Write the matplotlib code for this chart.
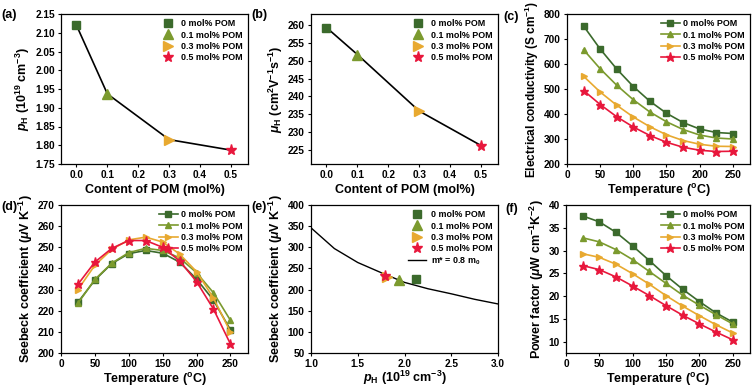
import numpy as np
import matplotlib
matplotlib.use("Agg")
import matplotlib.pyplot as plt

plt.rcParams["font.family"] = ["Liberation Sans", "DejaVu Sans"]
plt.rcParams["font.weight"] = "bold"
plt.rcParams["mathtext.fontset"] = "custom"
plt.rcParams["mathtext.rm"] = "Liberation Sans:bold"
plt.rcParams["mathtext.it"] = "Liberation Sans:italic:bold"
plt.rcParams["mathtext.bf"] = "Liberation Sans:bold"

# data
pom = [0, 0.1, 0.3, 0.5]
labels = ["0 mol% POM", "0.1 mol% POM", "0.3 mol% POM", "0.5 mol% POM"]
p_h = [2.12, 1.937, 1.815, 1.787]
mu_h = [259.4, 251.8, 235.9, 226.2]

temp = [25, 50, 75, 100, 125, 150, 175, 200, 225, 250]
sigma = [
	[752, 660, 580, 510, 451, 403, 366, 340, 326, 322],
	[657, 581, 515, 457, 408, 369, 338, 316, 304, 300],
	[551, 488, 435, 388, 349, 317, 294, 279, 271, 270],
	[494, 438, 389, 348, 314, 287, 267, 255, 250, 251],
]
seebeck = [
	[224, 234.5, 242.3, 247, 248.5, 247.2, 243, 235, 225, 211],
	[223.5, 234.8, 242.5, 247.5, 249.5, 248.5, 245, 238, 228.5, 215.5],
	[230, 241.5, 249, 253.5, 254.8, 252.5, 246.8, 238.5, 226, 210],
	[232.5, 243, 249.5, 253.2, 253.2, 250, 243.6, 233.8, 220.8, 204.3],
]
pf = [
	[37.6, 36.3, 34.0, 31.0, 27.8, 24.5, 21.5, 18.8, 16.3, 14.3],
	[32.8, 31.9, 30.2, 28.0, 25.4, 22.8, 20.2, 18.0, 15.9, 13.9],
	[29.3, 28.5, 27.0, 24.9, 22.6, 20.1, 17.8, 15.7, 13.7, 11.9],
	[26.7, 25.8, 24.2, 22.2, 20.1, 17.9, 15.8, 13.9, 12.1, 10.4],
]
seebeck_rt = [224, 223.5, 230, 232.5]
pis_p = [1.0, 1.25, 1.5, 1.75, 2.0, 2.25, 2.5, 2.75, 3.0]
pis_s = [346, 297, 264, 240, 217, 202, 190, 177, 166]

colors = ["#3b6a2c", "#7b9a2e", "#e8a930", "#e8173c"]
markers = ["s", "^", ">", "*"]
msize = [4.5, 5, 5, 6.5]

W, H = 754, 388
fig = plt.figure(figsize=(W / 100, H / 100), dpi=100)

def ax_px(l, t, r, b):
	return fig.add_axes([l / W, 1 - b / H, (r - l) / W, (b - t) / H])

tick_fs = 7.3
lab_fs = 9.0
leg_fs = 6.4

def style(ax):
	ax.tick_params(direction="out", length=2.5, width=0.8, labelsize=tick_fs, pad=2)
	for s in ax.spines.values():
		s.set_linewidth(0.9)
	for t in ax.get_xticklabels() + ax.get_yticklabels():
		t.set_fontweight("bold")

boxes = {
	"a": (61, 14, 248, 164), "b": (311, 14, 498, 164), "c": (567, 14, 750, 164),
	"d": (61, 205, 248, 353), "e": (311, 205, 498, 353), "f": (566, 205, 750, 353),
}
axes = {k: ax_px(*v) for k, v in boxes.items()}
lab_pos = {"a": (1, 15), "b": (251, 15), "c": (503, 17), "d": (1, 207), "e": (251, 207), "f": (505, 209)}
for k, (x, y) in lab_pos.items():
	fig.text(x / W, 1 - y / H, f"({k})", fontsize=9, fontweight="bold", va="center", ha="left")

leg_kw = dict(frameon=False, labelspacing=0.25, borderaxespad=0.2, prop={"weight": "bold", "size": leg_fs})

# (a)
ax = axes["a"]
ax.plot(pom, p_h, color="black", lw=1.2, zorder=1)
for i in range(4):
	ax.plot(pom[i], p_h[i], ls="none", marker=markers[i], color=colors[i], ms=msize[i] + 1.5, label=labels[i], zorder=2)
ax.set_xlim(-0.05, 0.555)
ax.set_ylim(1.75, 2.15)
ax.set_xticks(np.arange(0, 0.51, 0.1))
ax.set_yticks(np.arange(1.75, 2.151, 0.05))
ax.xaxis.set_major_formatter(matplotlib.ticker.FormatStrFormatter("%.1f"))
ax.yaxis.set_major_formatter(matplotlib.ticker.FormatStrFormatter("%.2f"))
ax.set_xlabel("Content of POM (mol%)", fontsize=lab_fs, fontweight="bold", labelpad=3)
ax.set_ylabel(r"$\mathit{p}_\mathrm{H}$ (10$^{19}$ cm$^{-3}$)", fontsize=lab_fs, fontweight="bold", labelpad=2)
ax.legend(loc="upper right", handlelength=1.2, handletextpad=0.8, **leg_kw)
style(ax)

# (b)
ax = axes["b"]
ax.plot(pom, mu_h, color="black", lw=1.2, zorder=1)
for i in range(4):
	ax.plot(pom[i], mu_h[i], ls="none", marker=markers[i], color=colors[i], ms=msize[i] + 1.5, label=labels[i], zorder=2)
ax.set_xlim(-0.05, 0.555)
ax.set_ylim(221, 263.2)
ax.set_xticks(np.arange(0, 0.51, 0.1))
ax.set_yticks(np.arange(225, 261, 5))
ax.xaxis.set_major_formatter(matplotlib.ticker.FormatStrFormatter("%.1f"))
ax.set_xlabel("Content of POM (mol%)", fontsize=lab_fs, fontweight="bold", labelpad=3)
ax.set_ylabel(r"$\mathit{\mu}_\mathrm{H}$ (cm$^{2}$V$^{-1}$s$^{-1}$)", fontsize=lab_fs, fontweight="bold", labelpad=2)
ax.legend(loc="upper right", handlelength=1.2, handletextpad=0.8, **leg_kw)
style(ax)

def temp_panel(ax, data):
	for i in range(4):
		ax.plot(temp, data[i], color=colors[i], marker=markers[i], ms=msize[i], lw=1.2, label=labels[i])
	ax.set_xlim(0, 276)
	ax.set_xticks(range(0, 251, 50))
	ax.set_xlabel(r"Temperature ($^\mathrm{o}$C)", fontsize=lab_fs, fontweight="bold", labelpad=1)
	ax.legend(loc="upper right", handlelength=2.2, handletextpad=0.3, **leg_kw)
	style(ax)

# (c)
ax = axes["c"]
temp_panel(ax, sigma)
ax.set_ylim(200, 800)
ax.set_yticks(range(200, 801, 100))
ax.set_ylabel(r"Electrical conductivity (S cm$^{-1}$)", fontsize=8.6, fontweight="bold", labelpad=2)

# (d)
ax = axes["d"]
temp_panel(ax, seebeck)
ax.set_ylim(200, 270)
ax.set_yticks(range(200, 271, 10))
ax.set_ylabel(r"Seebeck coefficient ($\mu$V K$^{-1}$)", fontsize=lab_fs, fontweight="bold", labelpad=2)

# (e)
ax = axes["e"]
for i in range(4):
	ax.plot(p_h[i], seebeck_rt[i], ls="none", marker=markers[i], color=colors[i], ms=msize[i] + 1.5, label=labels[i], zorder=3)
ax.plot(pis_p, pis_s, color="black", lw=1.0, label=r"m* = 0.8 m$_\mathrm{0}$", zorder=2)
ax.set_xlim(1.0, 3.0)
ax.set_ylim(50, 400)
ax.set_xticks(np.arange(1.0, 3.01, 0.5))
ax.set_yticks(range(50, 401, 50))
ax.xaxis.set_major_formatter(matplotlib.ticker.FormatStrFormatter("%.1f"))
ax.set_xlabel(r"$\mathit{p}_\mathrm{H}$ (10$^{19}$ cm$^{-3}$)", fontsize=lab_fs, fontweight="bold", labelpad=0)
ax.set_ylabel(r"Seebeck coefficient ($\mu$V K$^{-1}$)", fontsize=lab_fs, fontweight="bold", labelpad=2)
ax.legend(loc="upper right", handlelength=2.0, handletextpad=0.6, **leg_kw)
style(ax)

# (f)
ax = axes["f"]
temp_panel(ax, pf)
ax.set_ylim(7.5, 40)
ax.set_yticks(range(10, 41, 5))
ax.set_ylabel(r"Power factor ($\mu$W cm$^{-1}$K$^{-2}$)", fontsize=lab_fs, fontweight="bold", labelpad=2)

fig.savefig("out.png", dpi=100)
